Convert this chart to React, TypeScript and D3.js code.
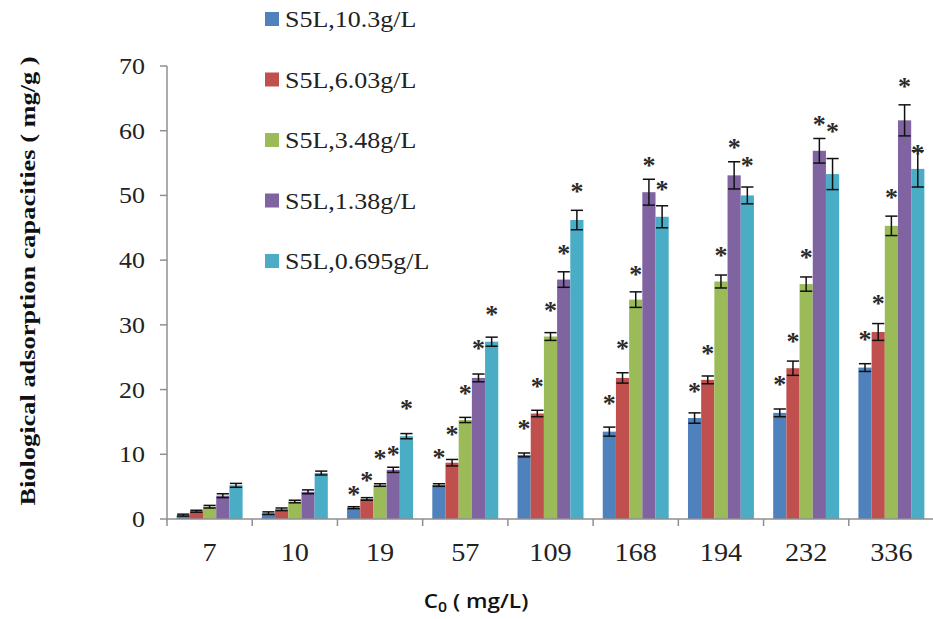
import React, { useEffect, useRef } from "react";
import * as d3 from "d3";

// C0 (mg/L) groups
const categories = ["7", "10", "19", "57", "109", "168", "194", "232", "336"];
const seriesNames = ["S5L,10.3g/L", "S5L,6.03g/L", "S5L,3.48g/L", "S5L,1.38g/L", "S5L,0.695g/L"];
const colors = ["#4F81BD", "#C0504D", "#9BBB59", "#8064A2", "#4BACC6"];

// adsorption capacity (mg/g) for each dosage
const dose10_3 = [0.6, 0.9, 1.75, 5.25, 9.9, 13.5, 15.6, 16.4, 23.4];
const dose6_03 = [1.2, 1.5, 3.1, 8.7, 16.3, 21.8, 21.5, 23.3, 28.9];
const dose3_48 = [1.9, 2.7, 5.25, 15.3, 28.2, 33.9, 36.7, 36.3, 45.3];
const dose1_38 = [3.6, 4.2, 7.6, 21.8, 37.0, 50.5, 53.1, 56.9, 61.6];
const dose0_695 = [5.2, 7.1, 12.8, 27.4, 46.2, 46.7, 50.0, 53.3, 54.1];

// standard deviation
const err10_3 = [0.15, 0.2, 0.15, 0.2, 0.3, 0.7, 0.8, 0.6, 0.6];
const err6_03 = [0.15, 0.2, 0.2, 0.5, 0.5, 0.8, 0.6, 1.1, 1.3];
const err3_48 = [0.2, 0.2, 0.2, 0.4, 0.6, 1.2, 1.0, 1.1, 1.5];
const err1_38 = [0.3, 0.3, 0.4, 0.6, 1.2, 2.0, 2.1, 1.9, 2.4];
const err0_695 = [0.3, 0.3, 0.4, 0.7, 1.5, 1.7, 1.3, 2.4, 2.8];

// height (mg/g) of the significance asterisk, null = none
const star10_3 = [null, null, 4.7, 10.4, 14.9, 18.7, 20.6, 21.6, 28.6];
const star6_03 = [null, null, 6.8, 13.9, 21.3, 27.2, 26.5, 28.3, 34.1];
const star3_48 = [null, null, 10.2, 20.2, 33.1, 38.7, 41.6, 41.3, 50.5];
const star1_38 = [null, null, 10.8, 27.2, 41.9, 55.5, 58.3, 61.8, 67.7];
const star0_695 = [null, null, 17.9, 32.5, 51.4, 51.7, 55.5, 60.7, 57.4];

const yTicks = [0, 10, 20, 30, 40, 50, 60, 70];

const values = [dose10_3, dose6_03, dose3_48, dose1_38, dose0_695];
const errors = [err10_3, err6_03, err3_48, err1_38, err0_695];
const stars = [star10_3, star6_03, star3_48, star1_38, star0_695];

const App = () => {
  const ref = useRef<SVGSVGElement>(null);

  useEffect(() => {
    const width = 933;
    const height = 619;
    const margin = { top: 66, right: -1, bottom: 100, left: 167 };
    const serif = "'Liberation Serif', 'Times New Roman', serif";
    const axisColor = "#8f8f8f";
    const stretch = 1.13;

    const svg = d3.select(ref.current);
    svg.selectAll("*").remove();

    const rows = categories.flatMap((c, ci) =>
      seriesNames.map((s, si) => ({
        cat: c,
        si,
        value: values[si][ci],
        err: errors[si][ci],
        star: stars[si][ci],
      }))
    );

    const x0 = d3.scaleBand().domain(categories).range([margin.left, width - margin.right]);
    const x1 = d3
      .scaleBand<number>()
      .domain(d3.range(seriesNames.length))
      .range([0, x0.bandwidth()])
      .paddingInner(0)
      .paddingOuter(0.73);
    const y = d3.scaleLinear().domain([0, 70]).range([height - margin.bottom, margin.top]);
    const y0 = y(0);
    const bw = x1.bandwidth();

    // === BARS ===
    svg
      .append("g")
      .selectAll("rect")
      .data(rows)
      .join("rect")
      .attr("x", d => x0(d.cat)! + x1(d.si)!)
      .attr("y", d => y(d.value))
      .attr("width", bw)
      .attr("height", d => y0 - y(d.value))
      .attr("fill", d => colors[d.si]);

    // === ERROR BARS ===
    const eb = svg
      .append("g")
      .attr("stroke", "#111")
      .attr("stroke-width", 1.5)
      .selectAll("g")
      .data(rows)
      .join("g")
      .attr("transform", d => `translate(${x0(d.cat)! + x1(d.si)! + bw / 2},0)`);
    eb.append("line")
      .attr("y1", d => y(d.value - d.err))
      .attr("y2", d => y(d.value + d.err));
    eb.append("line")
      .attr("x1", -bw / 2 + 0.5)
      .attr("x2", bw / 2 - 0.5)
      .attr("y1", d => y(d.value + d.err))
      .attr("y2", d => y(d.value + d.err));
    eb.append("line")
      .attr("x1", -bw / 2 + 0.5)
      .attr("x2", bw / 2 - 0.5)
      .attr("y1", d => y(d.value - d.err))
      .attr("y2", d => y(d.value - d.err));

    // === ASTERISKS ===
    svg
      .append("g")
      .selectAll("text")
      .data(rows.filter(d => d.star !== null))
      .join("text")
      .attr("x", d => x0(d.cat)! + x1(d.si)! + bw / 2)
      .attr("y", d => y(d.star as number) + 14)
      .attr("text-anchor", "middle")
      .attr("font-family", serif)
      .attr("font-weight", "bold")
      .attr("font-size", 26)
      .attr("fill", "#2a2a2a")
      .text("*");

    // === Y AXIS ===
    const ya = svg.append("g");
    ya.append("line")
      .attr("x1", margin.left)
      .attr("x2", margin.left)
      .attr("y1", y(70))
      .attr("y2", y0)
      .attr("stroke", axisColor)
      .attr("stroke-width", 1.5);
    ya.selectAll("line.tick")
      .data(yTicks)
      .join("line")
      .attr("class", "tick")
      .attr("x1", margin.left - 7)
      .attr("x2", margin.left)
      .attr("y1", d => y(d))
      .attr("y2", d => y(d))
      .attr("stroke", axisColor)
      .attr("stroke-width", 1.5);
    ya.selectAll("text")
      .data(yTicks)
      .join("text")
      .attr("transform", d => `translate(${margin.left - 22},${y(d) + 8}) scale(${stretch},1)`)
      .attr("text-anchor", "end")
      .attr("font-family", serif)
      .attr("font-size", 23)
      .attr("fill", "#222")
      .text(d => d);

    // === X AXIS ===
    const xa = svg.append("g");
    xa.append("line")
      .attr("x1", margin.left)
      .attr("x2", width)
      .attr("y1", y0)
      .attr("y2", y0)
      .attr("stroke", axisColor)
      .attr("stroke-width", 1.5);
    xa.selectAll("line.tick")
      .data(categories)
      .join("line")
      .attr("class", "tick")
      .attr("x1", d => x0(d)!)
      .attr("x2", d => x0(d)!)
      .attr("y1", y0)
      .attr("y2", y0 + 7)
      .attr("stroke", axisColor)
      .attr("stroke-width", 1.5);
    xa.selectAll("text")
      .data(categories)
      .join("text")
      .attr("transform", d => `translate(${x0(d)! + x0.bandwidth() / 2},${y0 + 42}) scale(${stretch},1)`)
      .attr("text-anchor", "middle")
      .attr("font-family", serif)
      .attr("font-size", 25)
      .attr("fill", "#222")
      .text(d => d);

    // === AXIS TITLES ===
    svg
      .append("text")
      .attr("transform", `translate(35,281) rotate(-90) scale(1.2,1)`)
      .attr("text-anchor", "middle")
      .attr("font-family", serif)
      .attr("font-weight", "bold")
      .attr("font-size", 22)
      .attr("fill", "#111")
      .text("Biological adsorption capacities ( mg/g )");

    const xt = svg
      .append("text")
      .attr("transform", `translate(476,607.5) scale(${stretch},1)`)
      .attr("text-anchor", "middle")
      .attr("font-family", "'Open Sans', sans-serif")
      .attr("font-weight", 600)
      .attr("font-size", 20)
      .attr("fill", "#111");
    xt.append("tspan").text("C");
    xt.append("tspan").attr("font-size", 14).attr("dy", 4).text("0");
    xt.append("tspan").attr("dy", -4).text(" ( mg/L)");

    // === LEGEND ===
    const lg = svg
      .append("g")
      .selectAll("g")
      .data(seriesNames)
      .join("g")
      .attr("transform", (d, i) => `translate(265,${19 + i * 60.5})`);
    lg.append("rect")
      .attr("x", 0)
      .attr("y", -7)
      .attr("width", 14)
      .attr("height", 14)
      .attr("fill", (d, i) => colors[i]);
    lg.append("text")
      .attr("transform", `translate(20,8) scale(${stretch},1)`)
      .attr("font-family", serif)
      .attr("font-size", 23)
      .attr("fill", "#222")
      .text(d => d);
  }, []);

  return (
    <svg
      ref={ref}
      width={933}
      height={619}
      style={{ position: "absolute", left: 0, top: 0, background: "#fff" }}
    />
  );
};

export default App;
